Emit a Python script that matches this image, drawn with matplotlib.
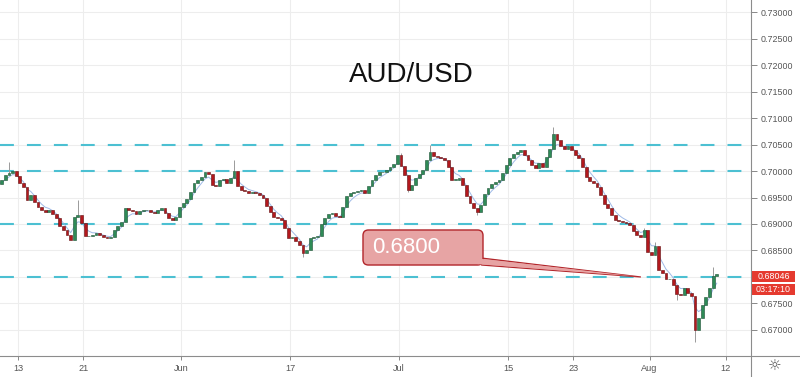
import matplotlib
matplotlib.use("Agg")
import matplotlib.pyplot as plt
from matplotlib.patches import Rectangle, FancyBboxPatch, Polygon
from matplotlib.lines import Line2D
import matplotlib.transforms as mtransforms
import numpy as np
import pandas as pd

# ---------------- data ----------------
title = "AUD/USD"
first_open = 0.6980
start_day = -2          # trading-day index of first candle (0 = 13 May)
candles_per_day = 3
closes = [
    0.6975, 0.6983, 0.6992, 0.6996, 0.7000, 0.6991, 0.6977, 0.6970, 0.6945, 0.6955,
    0.6942, 0.6932, 0.6926, 0.6923, 0.6926, 0.6919, 0.6911, 0.6896, 0.6889, 0.6879,
    0.6870, 0.6913, 0.6917, 0.6902, 0.6877, 0.6877, 0.6879, 0.6883, 0.6879, 0.6875,
    0.6874, 0.6875, 0.6889, 0.6896, 0.6904, 0.6930, 0.6926, 0.6925, 0.6919, 0.6925,
    0.6926, 0.6926, 0.6923, 0.6921, 0.6926, 0.6930, 0.6921, 0.6911, 0.6908, 0.6913,
    0.6932, 0.6940, 0.6947, 0.6960, 0.6977, 0.6983, 0.6989, 0.6998, 0.6994, 0.6974,
    0.6972, 0.6983, 0.6985, 0.6977, 0.6987, 0.7000, 0.6972, 0.6964, 0.6962, 0.6958,
    0.6960, 0.6958, 0.6955, 0.6949, 0.6934, 0.6923, 0.6913, 0.6911, 0.6908, 0.6892,
    0.6874, 0.6875, 0.6868, 0.6860, 0.6845, 0.6851, 0.6874, 0.6875, 0.6877, 0.6900,
    0.6911, 0.6919, 0.6921, 0.6915, 0.6913, 0.6932, 0.6953, 0.6958, 0.6960, 0.6962,
    0.6964, 0.6958, 0.6972, 0.6983, 0.6992, 0.6998, 0.6998, 0.7002, 0.7008, 0.7013,
    0.7030, 0.7009, 0.6992, 0.6964, 0.6974, 0.6987, 0.6994, 0.7002, 0.7021, 0.7036,
    0.7028, 0.7026, 0.7025, 0.7021, 0.7008, 0.6983, 0.6983, 0.6987, 0.6974, 0.6953,
    0.6940, 0.6930, 0.6923, 0.6936, 0.6957, 0.6968, 0.6975, 0.6979, 0.6983, 0.6996,
    0.7011, 0.7025, 0.7032, 0.7036, 0.7040, 0.7030, 0.7021, 0.7011, 0.7006, 0.7015,
    0.7008, 0.7026, 0.7042, 0.7070, 0.7058, 0.7047, 0.7042, 0.7047, 0.7040, 0.7030,
    0.7025, 0.7008, 0.6989, 0.6981, 0.6977, 0.6970, 0.6955, 0.6938, 0.6930, 0.6917,
    0.6908, 0.6906, 0.6904, 0.6902, 0.6898, 0.6887, 0.6879, 0.6875, 0.6889, 0.6847,
    0.6842, 0.6858, 0.6813, 0.6808, 0.6796, 0.6796, 0.6785, 0.6768, 0.6766, 0.6779,
    0.6770, 0.6764, 0.6700, 0.6723, 0.6747, 0.6762, 0.6779, 0.6802, 0.6805,
]
wick_highs = {3: 0.7017, 22: 0.6945, 65: 0.7021, 111: 0.7034, 119: 0.7049,
              153: 0.7083, 178: 0.6892, 181: 0.6866, 197: 0.6819}
wick_lows = {84: 0.6838, 113: 0.6960, 132: 0.6917, 187: 0.6757, 192: 0.6677}

xtick_days = [0, 6, 15, 25, 35, 45, 51, 58, 65]
xtick_labels = ["13", "21", "Jun", "17", "Jul", "15", "23", "Aug", "12"]
ytick_values = [0.670, 0.675, 0.680, 0.685, 0.690, 0.695, 0.700,
                0.705, 0.710, 0.715, 0.720, 0.725, 0.730]
levels = [0.7050, 0.7000, 0.6900, 0.6800]
callout_text = "0.6800"
callout_target = (57.2, 0.6800)
current_price = 0.68046
current_label = "0.68046"
countdown = "03:17:10"

# ---------------- figure ----------------
plt.rcParams['font.family'] = ['Liberation Sans', 'DejaVu Sans']
W, H = 800, 377
fig = plt.figure(figsize=(W / 100, H / 100), dpi=100)
fig.patch.set_facecolor('white')
ax = fig.add_axes([0, 21 / H, 751 / W, 356 / H])
ax.set_facecolor('white')

ax.set_xlim(-1.653, 67.31)
ax.set_ylim(0.66509, 0.73227)

for s in ax.spines.values():
    s.set_visible(False)

# grid and ticks (the 0.68000 tick label is hidden behind the price tag)
ax.set_xticks(xtick_days)
ax.set_xticklabels(xtick_labels)
ax.set_yticks(ytick_values)
ax.set_yticklabels(["" if abs(v - current_price) < 0.002 else f"{v:.5f}"
                    for v in ytick_values])
ax.yaxis.tick_right()
ax.grid(True, color='#ededed', linewidth=0.8, zorder=0)
ax.set_axisbelow(True)
ax.tick_params(axis='y', direction='out', length=4, width=0.7, color='#888888',
               labelcolor='#555555', labelsize=6.4, pad=3)
ax.tick_params(axis='x', direction='out', length=3, width=0.7, color='#888888',
               labelcolor='#555555', labelsize=6.6, pad=2.5)

# level lines
plt.rcParams['lines.scale_dashes'] = False
for lv in levels:
    ax.axhline(lv, color='#4cc0d2', linewidth=1.5, dashes=(10, 9.4), zorder=2)

# candles
c = np.array(closes)
n = len(c)
o = np.r_[first_open, c[:-1]]
x = start_day + (np.arange(n) + 0.5) / candles_per_day
up = c >= o
bottom = np.minimum(o, c)
height = np.maximum(np.abs(c - o), 0.0001)

# wicks
for i, hv in wick_highs.items():
    ax.vlines(x[i], max(o[i], c[i]), hv, color='#9a9a9a', linewidth=0.7, zorder=3)
for i, lv in wick_lows.items():
    ax.vlines(x[i], lv, min(o[i], c[i]), color='#9a9a9a', linewidth=0.7, zorder=3)

# moving average (drawn under the candles)
ema = pd.Series(c).ewm(span=4, adjust=False).mean()
ax.plot(x, ema, color='#8eaee3', linewidth=0.7, alpha=0.85, zorder=3.5)

ax.bar(x[up], height[up], bottom=bottom[up], width=0.26, color='#2e8b57',
       edgecolor='#1b4f33', linewidth=0.4, zorder=4)
ax.bar(x[~up], height[~up], bottom=bottom[~up], width=0.26, color='#b3181d',
       edgecolor='#5e0a0c', linewidth=0.4, zorder=4)

# title
ax.text(0.548, 0.789, title, transform=ax.transAxes, ha='center', va='center',
        fontsize=20, color='#111111', zorder=6)

# callout
px_per_day = 10.89
px_per_price = 5300.0
box_x0, box_x1 = 31.68, 42.70
box_y0, box_y1 = 0.68226, 0.68887
fill = '#e7a4a4'
edge = '#b2262b'
ptr = [(42.55, 0.68358), (42.55, 0.68226), callout_target]
ax.add_patch(Polygon(ptr, closed=True, facecolor=fill, edgecolor=edge,
                     linewidth=0.9, zorder=7))
bx = FancyBboxPatch((box_x0, box_y0), box_x1 - box_x0, box_y1 - box_y0,
                    boxstyle="round,pad=0,rounding_size=0.5",
                    mutation_aspect=px_per_day / px_per_price,
                    facecolor=fill, edgecolor=edge, linewidth=1.0, zorder=8)
ax.add_patch(bx)
ptr_fill = [(42.2, 0.68350), (42.2, 0.68242), (callout_target[0] - 0.3, 0.68008)]
ax.add_patch(Polygon(ptr_fill, closed=True, facecolor=fill, edgecolor='none',
                     zorder=9))
ax.text(32.5, 0.68453, callout_text, ha='left', va='baseline', fontsize=16,
        color='white', zorder=10)

# current price labels on the price scale
tr = mtransforms.blended_transform_factory(ax.transAxes, ax.transData)
lab_h = 11 / px_per_price
for yc, txt in [(current_price - 2 / px_per_price, current_label),
                (current_price - 15 / px_per_price, countdown)]:
    r = Rectangle((1.0015, yc - lab_h / 2), 0.0573, lab_h, transform=tr,
                  facecolor='#e53a2f', edgecolor='none', clip_on=False, zorder=20)
    ax.add_patch(r)
    ax.text(1.0300, yc, txt, transform=tr, ha='center', va='center',
            fontsize=6.4, color='white', clip_on=False, zorder=21)

# frame lines
fig.add_artist(Line2D([0, 1], [21 / H, 21 / H], color='#8c8c8c', linewidth=0.8))
fig.add_artist(Line2D([751 / W, 751 / W], [0, 1], color='#8c8c8c', linewidth=0.8))

# settings icon
fig.text(775 / W, 1 - 366 / H, "\u263c", ha='center', va='center', fontsize=11,
         color='#555555', family='DejaVu Sans')

fig.savefig("out.png", dpi=100, facecolor='white')
